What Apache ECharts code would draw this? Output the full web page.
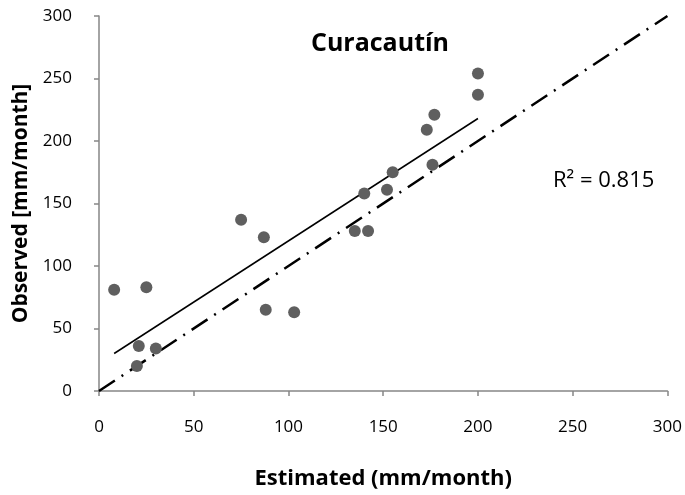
<!DOCTYPE html>
<html>
<head>
<meta charset="utf-8">
<script src="https://cdn.jsdelivr.net/npm/echarts@6/dist/echarts.min.js"></script>
<style>
  html, body { margin: 0; padding: 0; background: #fff; }
  #chart { width: 685px; height: 495px; }
</style>
</head>
<body>
<div id="chart"></div>
<script>
// estimated / observed pairs (mm/month)
const estimated = [8, 25, 75, 87, 88, 103, 21, 30, 20, 200, 200, 177, 173, 176, 155, 140, 152, 135, 142]
const observed = [81, 83, 137, 123, 65, 63, 36, 34, 20, 254, 237, 221, 209, 181, 175, 158, 161, 128, 128]

// linear trend line endpoints
const trendX = [8, 200]
const trendY = [30, 218]

// 1:1 line
const oneToOne = [0, 300]

const axisTicks = [0, 50, 100, 150, 200, 250, 300]

const myChart = echarts.init(document.getElementById('chart'))

const font = '"Open Sans", sans-serif'

const axisCommon = {
  min: axisTicks[0],
  max: axisTicks[axisTicks.length - 1],
  interval: axisTicks[1] - axisTicks[0],
  splitLine: { show: false },
  axisLine: { onZero: false, lineStyle: { color: '#868686', width: 1.5 } },
  axisTick: { show: true, inside: false, length: 5, lineStyle: { color: '#868686', width: 1.5 } },
  axisLabel: { color: '#000', fontSize: 17, fontFamily: font },
  nameLocation: 'middle',
  nameTextStyle: { color: '#000', fontSize: 22, fontWeight: 'bold', fontFamily: font }
}

const option = {
  animation: false,
  grid: { left: 99, right: 16, top: 16, bottom: 104, containLabel: false },
  title: {
    text: 'Curacautín',
    left: 375,
    top: 26,
    textAlign: 'center',
    textStyle: { fontSize: 25, fontWeight: 'bold', color: '#000', fontFamily: font }
  },
  graphic: [
    {
      type: 'text',
      left: 553,
      top: 170,
      style: { text: 'R² = 0.815', fontSize: 22, fill: '#000', fontFamily: font }
    }
  ],
  xAxis: Object.assign({}, axisCommon, {
    type: 'value',
    name: 'Estimated (mm/month)',
    nameGap: 77,
    axisLabel: Object.assign({}, axisCommon.axisLabel, { margin: 28 })
  }),
  yAxis: Object.assign({}, axisCommon, {
    type: 'value',
    name: 'Observed [mm/month]',
    nameGap: 64,
    nameTextStyle: Object.assign({}, axisCommon.nameTextStyle, { fontSize: 21 }),
    axisLabel: Object.assign({}, axisCommon.axisLabel, { margin: 27 })
  }),
  series: [
    {
      type: 'line',
      data: oneToOne.map(v => [v, v]),
      symbol: 'none',
      lineStyle: { color: '#000', width: 2.5, type: [19, 8, 2, 8] },
      z: 1
    },
    {
      type: 'line',
      data: trendX.map((x, i) => [x, trendY[i]]),
      symbol: 'none',
      lineStyle: { color: '#000', width: 1.5 },
      z: 2
    },
    {
      type: 'scatter',
      data: estimated.map((x, i) => [x, observed[i]]),
      symbolSize: 12,
      itemStyle: { color: '#5f5f5f', opacity: 1 },
      z: 3
    }
  ]
}

myChart.setOption(option)
</script>
</body>
</html>
